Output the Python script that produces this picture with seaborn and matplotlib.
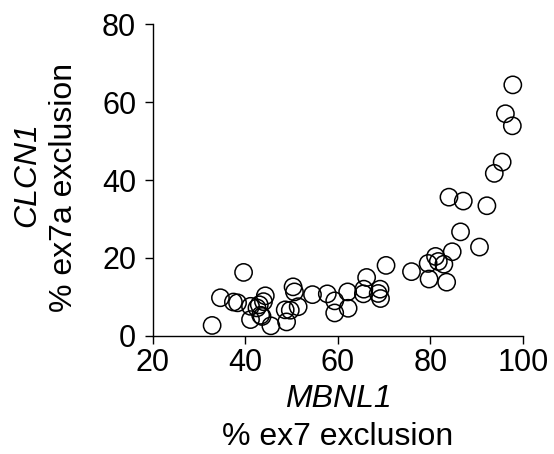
import matplotlib
matplotlib.use("Agg")
import matplotlib.pyplot as plt
import seaborn as sns
import pandas as pd

mbnl1 = [32.8, 34.6, 37.4, 38.3, 39.6, 41.1, 41.1, 42.5, 43.0, 43.3, 43.6, 43.9, 44.3,
         45.5, 48.6, 48.9, 49.7, 50.3, 50.6, 51.4, 54.5, 57.7, 59.3, 59.3, 62.1, 62.2,
         65.5, 65.6, 66.2, 68.7, 69.1, 69.2, 70.4, 75.9, 79.5, 79.7, 81.1, 81.7, 82.9,
         83.5, 84.0, 84.7, 86.5, 87.1, 90.6, 92.2, 93.8, 95.5, 96.2, 97.7, 97.8]
clcn1 = [2.7, 9.8, 8.7, 8.5, 16.3, 7.6, 4.2, 7.2, 8.0, 5.3, 5.0, 8.8, 10.3,
         2.6, 6.7, 3.6, 6.6, 12.6, 11.3, 7.5, 10.6, 10.8, 9.0, 5.9, 11.3, 7.1,
         10.8, 12.0, 15.0, 10.9, 12.0, 9.6, 18.1, 16.5, 18.6, 14.6, 20.4, 19.1, 18.4,
         13.8, 35.6, 21.6, 26.7, 34.6, 22.8, 33.4, 41.7, 44.6, 57.0, 53.9, 64.4]

df = pd.DataFrame({"x": mbnl1, "y": clcn1})

sns.set_style("ticks")
plt.rcParams["font.family"] = ["Liberation Sans", "DejaVu Sans"]
plt.rcParams["text.color"] = "black"
plt.rcParams["xtick.color"] = "black"
plt.rcParams["ytick.color"] = "black"

fig = plt.figure(figsize=(5.54, 4.54), dpi=100)
ax = fig.add_axes([0.276, 0.26, 0.668, 0.687])
sns.scatterplot(data=df, x="x", y="y", ax=ax, s=155, facecolor="none",
                edgecolor="black", linewidth=1.1, legend=False, clip_on=False)
ax.set_xlim(20, 100)
ax.set_ylim(0, 80)
ax.set_xticks([20, 40, 60, 80, 100])
ax.set_yticks([0, 20, 40, 60, 80])
ax.tick_params(labelsize=22, length=6, width=1, color="black", labelcolor="black")
ax.tick_params(axis="x", pad=3)
ax.tick_params(axis="y", pad=6)
for s in ["top", "right"]:
    ax.spines[s].set_visible(False)
for s in ["left", "bottom"]:
    ax.spines[s].set_linewidth(1)
    ax.spines[s].set_color("black")
ax.set_xlabel("")
ax.set_ylabel("")

fs = 23
fig.text(338 / 554, 1 - 399 / 454, "MBNL1", fontsize=fs, style="italic", ha="center", va="center")
fig.text(338 / 554, 1 - 437 / 454, "% ex7 exclusion", fontsize=fs, ha="center", va="center")
fig.text(27 / 554, 1 - 175 / 454, "CLCN1", fontsize=fs, style="italic", ha="center", va="center", rotation=90)
fig.text(64 / 554, 1 - 187 / 454, "% ex7a exclusion", fontsize=fs, ha="center", va="center", rotation=90)

fig.savefig("out.png", dpi=100)
